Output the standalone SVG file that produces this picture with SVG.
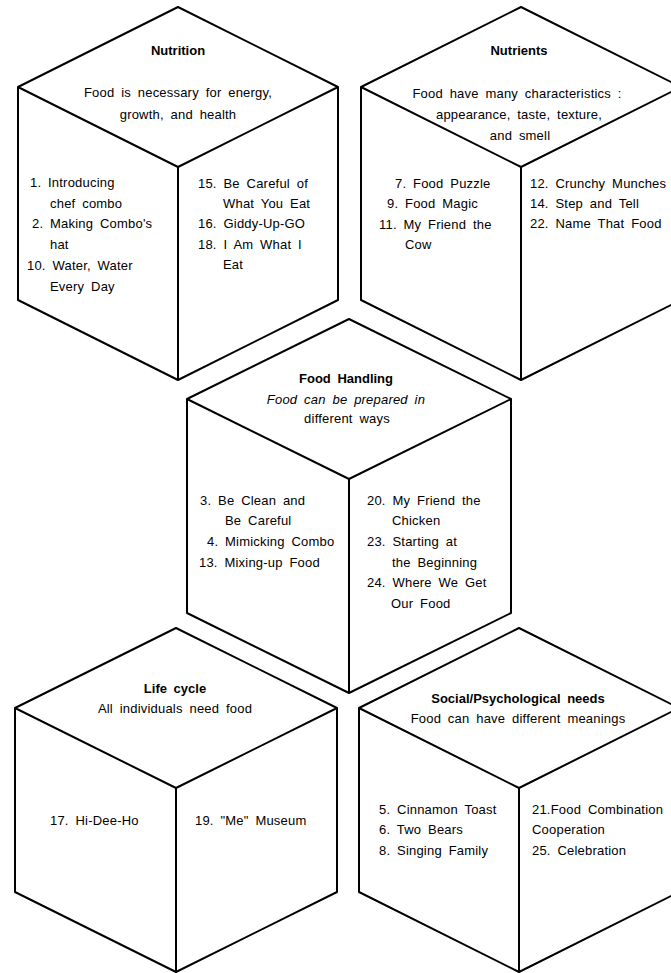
<svg xmlns="http://www.w3.org/2000/svg" width="671" height="973" viewBox="0 0 671 973">
<style>
.cube{fill:none;stroke:#000;stroke-width:2;stroke-linejoin:round;stroke-linecap:round}
text{font-family:"Liberation Sans",Arial,sans-serif;font-size:13px;fill:#000;word-spacing:3px;letter-spacing:0.2px}
.t{font-weight:bold;letter-spacing:0;text-anchor:middle}
.c{text-anchor:middle}
.i{font-style:italic}
</style>
<rect width="671" height="973" fill="#fff"/>

<g id="nutrition">
<path class="cube" d="M178,7 L338,87 L338,300 L178,380 L18,300 L18,87 Z M18,87 L178,167 L338,87 M178,167 L178,380"/>
<text class="t" x="178" y="55">Nutrition</text>
<text class="c" x="178" y="97">Food is necessary for energy,</text>
<text class="c" x="178" y="119">growth, and health</text>
<text x="30" y="187">1. Introducing</text>
<text x="50" y="208">chef combo</text>
<text x="32" y="228">2. Making Combo's</text>
<text x="50" y="249">hat</text>
<text x="27" y="270">10. Water, Water</text>
<text x="50" y="291">Every Day</text>
<text x="198" y="188">15. Be Careful of</text>
<text x="223" y="208">What You Eat</text>
<text x="198" y="228">16. Giddy-Up-GO</text>
<text x="198" y="249">18. I Am What I</text>
<text x="223" y="269">Eat</text>
</g>

<g id="nutrients">
<path class="cube" d="M521,7 L681,87 L681,300 L521,380 L361,300 L361,87 Z M361,87 L521,167 L681,87 M521,167 L521,380"/>
<text class="t" x="519" y="55">Nutrients</text>
<text class="c" x="517" y="98">Food have many characteristics :</text>
<text class="c" x="519" y="119">appearance, taste, texture,</text>
<text class="c" x="520" y="140">and smell</text>
<text x="395" y="188">7. Food Puzzle</text>
<text x="387" y="208">9. Food Magic</text>
<text x="379" y="229">11. My Friend the</text>
<text x="405" y="249">Cow</text>
<text x="530" y="188">12. Crunchy Munches</text>
<text x="530" y="208">14. Step and Tell</text>
<text x="530" y="228">22. Name That Food</text>
</g>

<g id="food-handling">
<path class="cube" d="M349,319 L511,399 L511,613 L349,693 L187,613 L187,399 Z M187,399 L349,479 L511,399 M349,479 L349,693"/>
<text class="t" x="346" y="383">Food Handling</text>
<text class="c i" x="346" y="404">Food can be prepared in</text>
<text class="c" x="347" y="423">different ways</text>
<text x="200" y="505">3. Be Clean and</text>
<text x="225" y="525">Be Careful</text>
<text x="207" y="546">4. Mimicking Combo</text>
<text x="199" y="567">13. Mixing-up Food</text>
<text x="367" y="505">20. My Friend the</text>
<text x="392" y="525">Chicken</text>
<text x="367" y="546">23. Starting at</text>
<text x="392" y="567">the Beginning</text>
<text x="367" y="587">24. Where We Get</text>
<text x="391" y="608">Our Food</text>
</g>

<g id="life-cycle">
<path class="cube" d="M176,628 L337,708 L337,892 L176,972 L15,892 L15,708 Z M15,708 L176,788 L337,708 M176,788 L176,972"/>
<text class="t" x="175" y="693">Life cycle</text>
<text class="c" x="175" y="713">All individuals need food</text>
<text x="50" y="825">17. Hi-Dee-Ho</text>
<text x="195" y="825">19. "Me" Museum</text>
</g>

<g id="social">
<path class="cube" d="M519,628 L679,708 L679,892 L519,972 L359,892 L359,708 Z M359,708 L519,788 L679,708 M519,788 L519,972"/>
<text class="t" x="518" y="703">Social/Psychological needs</text>
<text class="c" x="518" y="723">Food can have different meanings</text>
<text x="379" y="814">5. Cinnamon Toast</text>
<text x="379" y="834">6. Two Bears</text>
<text x="379" y="855">8. Singing Family</text>
<text x="532" y="814">21.Food Combination</text>
<text x="532" y="834">Cooperation</text>
<text x="532" y="855">25. Celebration</text>
</g>
</svg>
